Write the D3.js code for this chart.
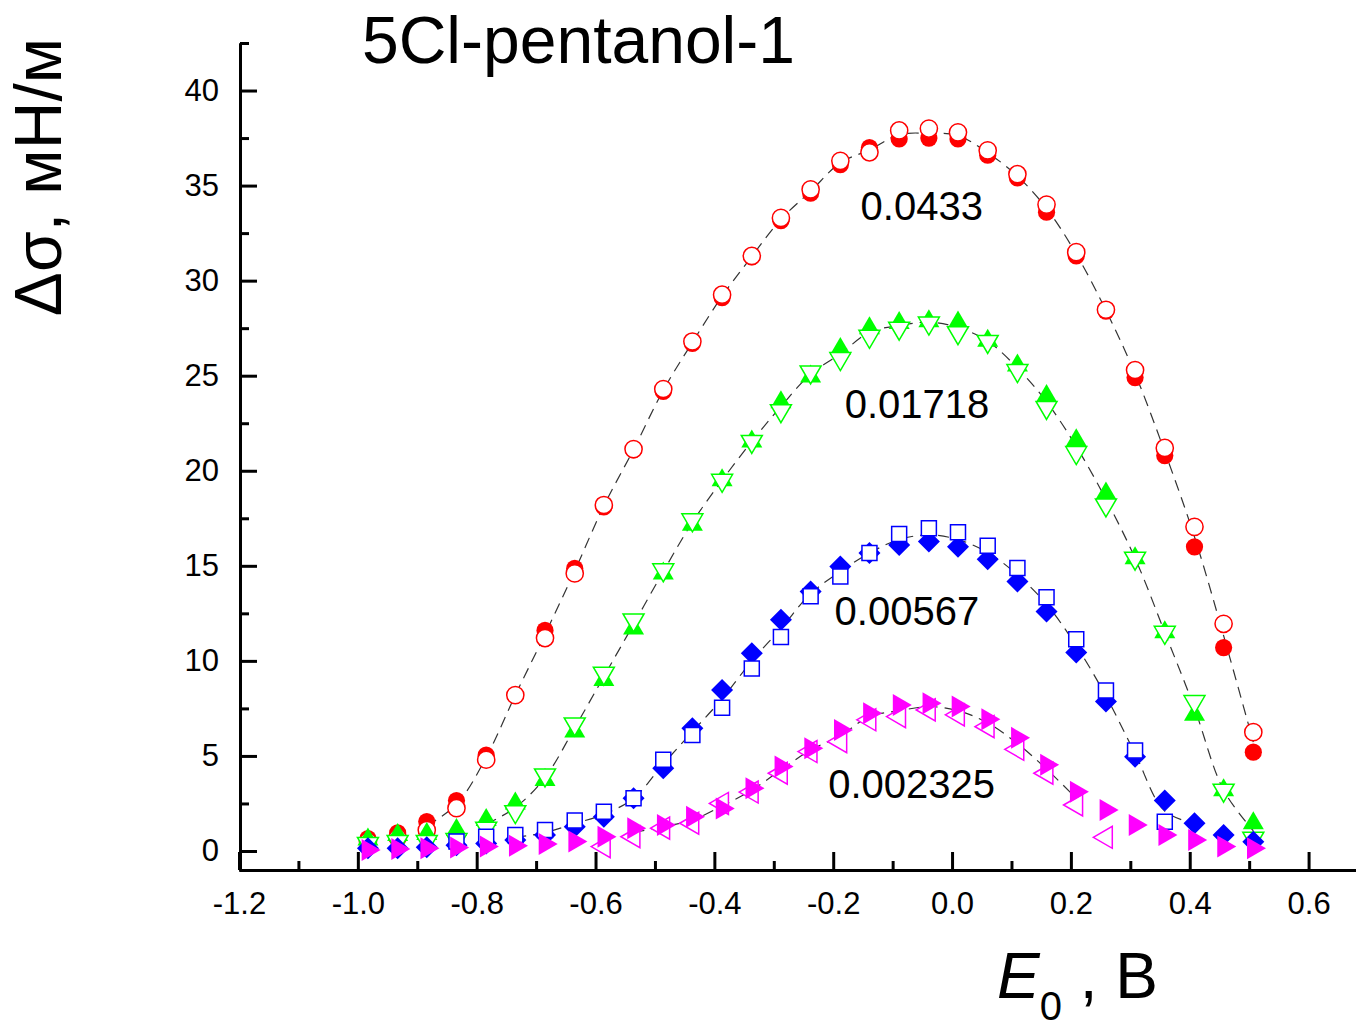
<!DOCTYPE html>
<html lang="en">
<head>
<meta charset="UTF-8" />
<title>5Cl-pentanol-1</title>
<script src="https://d3js.org/d3.v7.min.js"></script>
<style>
  body { margin: 0; background: #fff; }
  svg { display: block; font-family: Arial, "Liberation Sans", sans-serif; }
</style>
</head>
<body>
<svg id="chart" width="1356" height="1027"></svg>
<script>
// electrode potential, B
var E = [-0.983, -0.933, -0.884, -0.834, -0.784, -0.735, -0.685, -0.635, -0.586, -0.536,
         -0.486, -0.437, -0.387, -0.337, -0.288, -0.238, -0.188, -0.139, -0.089, -0.039,
          0.010,  0.060,  0.110,  0.159,  0.209,  0.259,  0.308,  0.358,  0.408,  0.457, 0.507];

// delta sigma, mN/m  (filled / open markers for each concentration)
var redFilled = [0.65, 0.95, 1.55, 2.65, 5.05, 8.2, 11.6, 14.87, 18.1, 21.1, 24.17, 26.7, 29.1, 31.25, 33.15, 34.6, 36.1, 37.0, 37.45, 37.5, 37.45, 36.6, 35.4, 33.6, 31.3, 28.4, 24.9, 20.8, 16.0, 10.7, 5.2];
var redOpen   = [0.5, 0.7, 1.1, 2.25, 4.8, 8.2, 11.2, 14.6, 18.2, 21.14, 24.3, 26.8, 29.26, 31.3, 33.3, 34.8, 36.3, 36.75, 37.9, 38.0, 37.8, 36.85, 35.6, 34.0, 31.5, 28.47, 25.3, 21.2, 17.05, 11.95, 6.25];

var greenFilled = [0.6, 0.84, 0.9, 1.1, 1.63, 2.5, 3.73, 6.28, 9.0, 11.7, 14.6, 17.16, 19.5, 21.54, 23.6, 24.96, 26.4, 27.5, 27.77, 27.86, 27.8, 26.84, 25.54, 23.93, 21.6, 18.8, 15.4, 11.5, 7.16, 3.2, 1.46];
var greenOpen   = [0.4, 0.5, 0.5, 0.6, 1.2, 2.07, 4.0, 6.68, 9.35, 12.15, 14.79, 17.42, 19.5, 21.54, 23.16, 25.2, 25.9, 27.07, 27.5, 27.77, 27.26, 26.8, 25.27, 23.33, 20.96, 18.2, 15.4, 11.5, 7.86, 3.2, 0.67];

var blueFilled = [0.14, 0.15, 0.2, 0.3, 0.4, 0.58, 0.84, 1.28, 1.8, 2.77, 4.35, 6.45, 8.47, 10.4, 12.16, 13.65, 14.96, 15.67, 16.1, 16.28, 16.0, 15.35, 14.17, 12.6, 10.44, 7.86, 4.96, 2.65, 1.46, 0.84, 0.49];
var blueOpen   = [null, null, null, 0.5, 0.75, 0.84, 1.1, 1.6, 2.07, 2.77, 4.8, 6.1, 7.54, 9.6, 11.25, 13.4, 14.44, 15.67, 16.67, 16.97, 16.76, 16.05, 14.88, 13.35, 11.14, 8.44, 5.28, 1.54, null, null, null];

var magentaFilled = [0.05, 0.1, 0.14, 0.18, 0.23, 0.28, 0.37, 0.5, 0.75, 1.2, 1.37, 1.8, 2.24, 3.3, 4.44, 5.4, 6.37, 7.25, 7.68, 7.77, 7.6, 6.93, 5.95, 4.53, 3.12, 2.16, 1.37, 0.84, 0.58, 0.23, 0.14];
var magentaOpen   = [null, null, null, null, null, null, null, null, 0.23, 0.75, 1.2, 1.46, 2.5, 3.1, 4.09, 5.23, 5.75, 6.9, 7.07, 7.42, 7.16, 6.54, 5.35, 4.09, 2.42, 0.72, null, null, null, null, null];

var concLabels = ["0.0433", "0.01718", "0.00567", "0.002325"];

var xMajor = [-1.2, -1.0, -0.8, -0.6, -0.4, -0.2, 0.0, 0.2, 0.4, 0.6];
var xMinor = [-1.1, -0.9, -0.7, -0.5, -0.3, -0.1, 0.1, 0.3, 0.5, 0.7];
var yMajor = [0, 5, 10, 15, 20, 25, 30, 35, 40];
var yMinor = [2.5, 7.5, 12.5, 17.5, 22.5, 27.5, 32.5, 37.5, 42.5];

var svg = d3.select("#chart");
svg.append("rect").attr("width", 1356).attr("height", 1027).attr("fill", "#fff");

var x = d3.scaleLinear().domain([-1.2, 0.7]).range([239, 1368]);
var y = d3.scaleLinear().domain([-1, 42.5]).range([870, 43]);

// axes, ticks pointing inwards
var xAxis = d3.axisBottom(x).tickValues(xMajor).tickSize(-18).tickSizeOuter(0)
  .tickPadding(22).tickFormat(function(d) { return d.toFixed(1); });
var xAxisMinor = d3.axisBottom(x).tickValues(xMinor).tickSize(-9).tickSizeOuter(0).tickFormat("");
var yAxis = d3.axisLeft(y).tickValues(yMajor).tickSize(-17).tickSizeOuter(0)
  .tickPadding(21).tickFormat(function(d) { return String(d); });
var yAxisMinor = d3.axisLeft(y).tickValues(yMinor).tickSize(-9).tickSizeOuter(0).tickFormat("");

function styleAxis(g) {
  g.selectAll("path.domain").attr("stroke", "#000").attr("stroke-width", 3);
  g.selectAll(".tick line").attr("stroke", "#000").attr("stroke-width", 3);
  g.selectAll(".tick text").attr("fill", "#000").style("font-size", "31px")
    .style("font-family", "Arial, 'Liberation Sans', sans-serif");
}

svg.append("g").attr("transform", "translate(0,870)").call(xAxisMinor).call(styleAxis);
svg.append("g").attr("transform", "translate(0,870)").call(xAxis).call(styleAxis);
svg.append("g").attr("transform", "translate(240,0)").call(yAxisMinor).call(styleAxis);
svg.append("g").attr("transform", "translate(240,0)").call(yAxis).call(styleAxis);

// marker shapes
function triUp(w, h) { return "M0," + (-2 * h / 3) + "L" + (w / 2) + "," + (h / 3) + "L" + (-w / 2) + "," + (h / 3) + "Z"; }
function triDown(w, h) { return "M0," + (2 * h / 3) + "L" + (w / 2) + "," + (-h / 3) + "L" + (-w / 2) + "," + (-h / 3) + "Z"; }
function triRight(w, h) { return "M" + (2 * w / 3) + ",0L" + (-w / 3) + "," + (-h / 2) + "L" + (-w / 3) + "," + (h / 2) + "Z"; }
function triLeft(w, h) { return "M" + (-2 * w / 3) + ",0L" + (w / 3) + "," + (-h / 2) + "L" + (w / 3) + "," + (h / 2) + "Z"; }
function diamond(w, h) { return "M0," + (-h / 2) + "L" + (w / 2) + ",0L0," + (h / 2) + "L" + (-w / 2) + ",0Z"; }
function square(s) { return "M" + (-s / 2) + "," + (-s / 2) + "h" + s + "v" + s + "h" + (-s) + "Z"; }
function circle(r) { return "M" + r + ",0A" + r + "," + r + " 0 1,1 " + (-r) + ",0A" + r + "," + r + " 0 1,1 " + r + ",0Z"; }

var series = [
  { filled: redFilled, open: redOpen, color: "#ff0000", fShape: circle(8.6), oShape: circle(8.6), from: 2, to: 30, openOnTop: true },
  { filled: greenFilled, open: greenOpen, color: "#00ff00", fShape: triUp(21, 18), oShape: triDown(21, 18), from: 4, to: 30, openOnTop: true },
  { filled: blueFilled, open: blueOpen, color: "#0000ff", fShape: diamond(22, 22), oShape: square(15), from: 5, to: 28, openOnTop: true },
  { filled: magentaFilled, open: magentaOpen, color: "#ff00ff", fShape: triRight(19, 22), oShape: triLeft(19, 22), from: 9, to: 24, openOnTop: false }
];

// fitted curves (through mean of the two runs)
var line = d3.line()
  .x(function(d) { return x(d[0]); })
  .y(function(d) { return y(d[1]); })
  .curve(d3.curveCatmullRom.alpha(0.5));

var gLines = svg.append("g");
series.forEach(function(s) {
  var pts = [];
  for (var i = s.from; i <= s.to; i++) {
    var a = s.filled[i], b = s.open[i];
    var v = (b == null) ? a : (a + b) / 2;
    pts.push([E[i], v]);
  }
  gLines.append("path").attr("d", line(pts))
    .attr("fill", "none").attr("stroke", "#333").attr("stroke-width", 1.2)
    .attr("stroke-dasharray", "11,7");
});

var gMarks = svg.append("g");
function drawSet(vals, shape, color, filled) {
  var pts = E.map(function(e, i) { return [e, vals[i]]; }).filter(function(p) { return p[1] != null; });
  gMarks.append("g").selectAll("path").data(pts).enter().append("path")
    .attr("d", shape)
    .attr("transform", function(d) { return "translate(" + x(d[0]) + "," + y(d[1]) + ")"; })
    .attr("fill", filled ? color : "#fff")
    .attr("stroke", filled ? "none" : color)
    .attr("stroke-width", 1.5);
}
series.forEach(function(s) {
  if (s.openOnTop) {
    drawSet(s.filled, s.fShape, s.color, true);
    drawSet(s.open, s.oShape, s.color, false);
  } else {
    drawSet(s.open, s.oShape, s.color, false);
    drawSet(s.filled, s.fShape, s.color, true);
  }
});

// concentration labels
var labelAt = [[-0.051, 33.2], [-0.059, 22.8], [-0.076, 11.9], [-0.068, 2.79]];
svg.append("g").selectAll("text").data(concLabels).enter().append("text")
  .attr("x", function(d, i) { return x(labelAt[i][0]); })
  .attr("y", function(d, i) { return y(labelAt[i][1]); })
  .attr("text-anchor", "middle")
  .style("font-size", "40px")
  .attr("fill", "#000")
  .text(function(d) { return d; });

// title
svg.append("text").attr("x", 362).attr("y", 63)
  .style("font-size", "66px").attr("fill", "#000")
  .text("5Cl-pentanol-1");

// y axis title
svg.append("text")
  .attr("transform", "translate(61,177) rotate(-90)")
  .attr("text-anchor", "middle")
  .style("font-size", "66px").attr("fill", "#000")
  .text("\u0394\u03c3, \u043c\u041d/\u043c");

// x axis title
var xt = svg.append("text").attr("x", 997).attr("y", 998)
  .style("font-size", "64px").attr("fill", "#000");
xt.append("tspan").style("font-style", "italic").text("E");
xt.append("tspan").style("font-size", "40px").attr("dy", 22).text("0");
xt.append("tspan").attr("dy", -22).text("\u00a0,\u00a0B");
</script>
</body>
</html>
